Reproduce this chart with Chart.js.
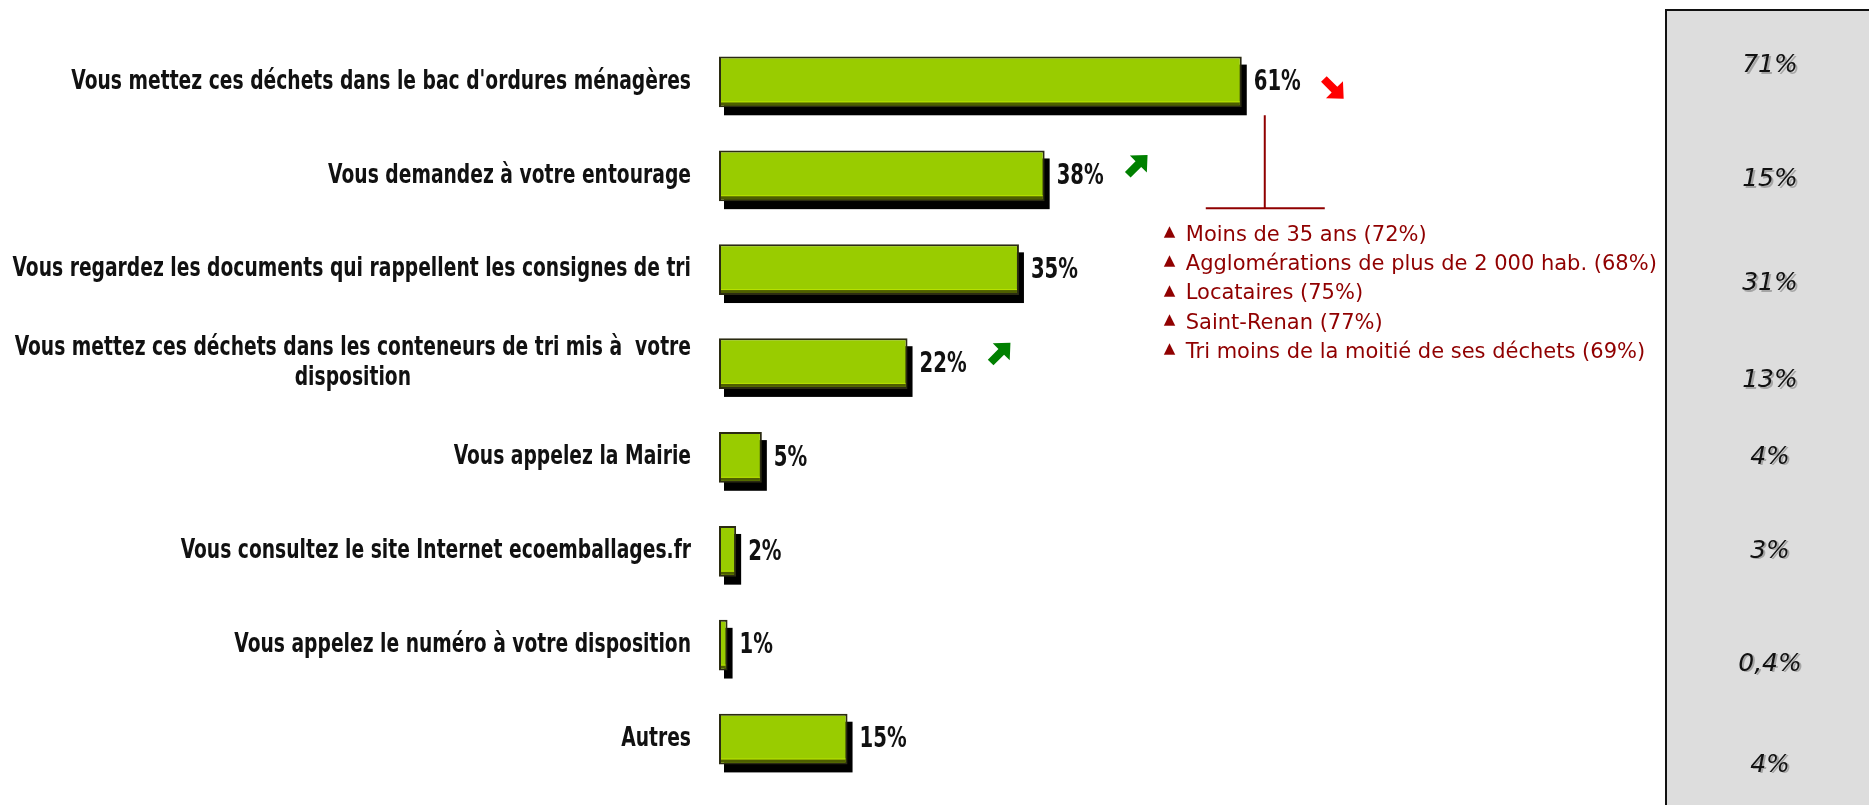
<!DOCTYPE html>
<html lang="fr">
<head>
<meta charset="utf-8">
<script src="https://cdn.jsdelivr.net/npm/chart.js@4"></script>
<style>
  body { margin: 0; background: #ffffff; }
  #graphique { display: block; }
</style>
</head>
<body>
<canvas id="graphique" width="1869" height="805"></canvas>
<script>
// Données
const categories = [
  "Vous mettez ces déchets dans le bac d'ordures ménagères",
  "Vous demandez à votre entourage",
  "Vous regardez les documents qui rappellent les consignes de tri",
  ["Vous mettez ces déchets dans les conteneurs de tri mis à  votre", "disposition"],
  "Vous appelez la Mairie",
  "Vous consultez le site Internet ecoemballages.fr",
  "Vous appelez le numéro à votre disposition",
  "Autres"
];
const valeurs = [61, 38, 35, 22, 5, 2, 1, 15];
const valeursPrecedentes = [71, 15, 31, 13, 4, 3, 0.4, 4];
const tendances = ["baisse", "hausse", null, "hausse", null, null, null, null];
const surRepresentes = [
  "Moins de 35 ans (72%)",
  "Agglomérations de plus de 2 000 hab. (68%)",
  "Locataires (75%)",
  "Saint-Renan (77%)",
  "Tri moins de la moitié de ses déchets (69%)"
];

// mise en page
const POLICE_LIB = '"DejaVu Sans Condensed", "Liberation Sans Narrow", sans-serif';
const decalagePanneau = [-16, 4, 14, 17, 0, 0, 19, 26];
const rouge = "#900000";

const fmt = v => String(v).replace(".", ",") + "%";

// texte compressé horizontalement (police étroite)
function texteEtroit(ctx, t, x, y, align, sx) {
  ctx.save();
  ctx.translate(x, y);
  ctx.scale(sx, 1);
  ctx.textAlign = align;
  ctx.fillText(t, 0, 0);
  ctx.restore();
}

// fond gris à droite
const panneau = {
  id: "panneau",
  beforeDraw(chart) {
    const ctx = chart.ctx;
    ctx.save();
    ctx.fillStyle = "#dddddd";
    ctx.fillRect(1666, 10, 210, 800);
    ctx.strokeStyle = "#111";
    ctx.lineWidth = 2;
    ctx.beginPath();
    ctx.moveTo(1666, 820);
    ctx.lineTo(1666, 10);
    ctx.lineTo(1875, 10);
    ctx.stroke();
    ctx.restore();
  },
  afterDraw(chart) {
    const ctx = chart.ctx;
    const y = chart.scales.y;
    ctx.save();
    ctx.font = 'italic 25px "DejaVu Sans", sans-serif';
    ctx.textAlign = "center";
    ctx.textBaseline = "middle";
    valeursPrecedentes.forEach((v, i) => {
      const py = y.getPixelForValue(i) + decalagePanneau[i];
      ctx.fillStyle = "rgba(0,0,0,0.25)";
      ctx.fillText(fmt(v), 1772, py + 1.5);
      ctx.fillStyle = "#111";
      ctx.fillText(fmt(v), 1770, py);
    });
    ctx.restore();
  }
};

// ombres des barres
const ombres = {
  id: "ombres",
  beforeDatasetsDraw(chart) {
    const ctx = chart.ctx;
    ctx.save();
    ctx.fillStyle = "#000";
    chart.getDatasetMeta(0).data.forEach(b => {
      ctx.fillRect(b.base + 5, b.y - b.height / 2 + 8, b.x - b.base, b.height);
    });
    ctx.restore();
  },
  afterDatasetsDraw(chart) {
    const ctx = chart.ctx;
    ctx.save();
    chart.getDatasetMeta(0).data.forEach(b => {
      const bas = b.y + b.height / 2;
      ctx.fillStyle = "#4d5e00";
      ctx.fillRect(b.base + 2, bas - 5, b.x - b.base - 4, 3);
      ctx.fillStyle = "#b8e000";
      ctx.fillRect(b.base + 2, bas - 6, b.x - b.base - 4, 1);
    });
    ctx.restore();
  }
};

function fleche(ctx, cx, cy, angle, couleur) {
  ctx.save();
  ctx.translate(cx, cy);
  ctx.rotate(angle);
  ctx.fillStyle = couleur;
  ctx.beginPath();
  ctx.moveTo(-14, -4);
  ctx.lineTo(1, -4);
  ctx.lineTo(1, -12);
  ctx.lineTo(14, 0);
  ctx.lineTo(1, 12);
  ctx.lineTo(1, 4);
  ctx.lineTo(-14, 4);
  ctx.closePath();
  ctx.fill();
  ctx.restore();
}

// étiquettes, flèches et encadré
const textes = {
  id: "textes",
  afterDraw(chart) {
    const ctx = chart.ctx;
    const y = chart.scales.y;
    const barres = chart.getDatasetMeta(0).data;
    ctx.save();

    // libellés des catégories
    const sx = 0.8;
    ctx.font = "bold 26px " + POLICE_LIB;
    ctx.fillStyle = "#111";
    ctx.textBaseline = "middle";
    const droite = chart.chartArea.left - 28;
    categories.forEach((lab, i) => {
      const lignes = Array.isArray(lab) ? lab : [lab];
      const larg = Math.max(...lignes.map(l => ctx.measureText(l).width)) * sx;
      const cy = y.getPixelForValue(i);
      const h = 30;
      lignes.forEach((l, k) => {
        const ly = cy + (k - (lignes.length - 1) / 2) * h;
        if (lignes.length > 1) texteEtroit(ctx, l, droite - larg / 2, ly, "center", sx);
        else texteEtroit(ctx, l, droite, ly, "right", sx);
      });
    });

    // valeurs
    ctx.font = "bold 28px " + POLICE_LIB;
    barres.forEach((b, i) => {
      texteEtroit(ctx, valeurs[i] + "%", b.x + 12, b.y + 1, "left", 0.78);
    });

    // flèches d'évolution
    barres.forEach((b, i) => {
      if (tendances[i] === "baisse") fleche(ctx, b.x + 92, b.y + 7, Math.PI / 4, "#ff0000");
      if (tendances[i] === "hausse") fleche(ctx, b.x + 93, b.y - 11, -Math.PI / 4, "#008000");
    });

    // encadré du premier item
    const b0 = barres[0];
    const lx = b0.x + 23;
    const haut = b0.y + b0.height / 2 + 8;
    const bas = haut + 93;
    ctx.strokeStyle = rouge;
    ctx.lineWidth = 2;
    ctx.beginPath();
    ctx.moveTo(lx, haut);
    ctx.lineTo(lx, bas);
    ctx.moveTo(lx - 59, bas);
    ctx.lineTo(lx + 60, bas);
    ctx.stroke();

    ctx.fillStyle = rouge;
    ctx.textAlign = "left";
    surRepresentes.forEach((t, k) => {
      const ty = bas + 27 + k * 29.3;
      ctx.font = '15px "DejaVu Sans", sans-serif';
      ctx.fillText("▲", lx - 101, ty - 3);
      ctx.font = '21px "DejaVu Sans", sans-serif';
      ctx.fillText(t, lx - 79, ty);
    });
    ctx.restore();
  }
};

new Chart(document.getElementById("graphique"), {
  type: "bar",
  data: {
    labels: categories,
    datasets: [{
      data: valeurs,
      backgroundColor: "#99cc00",
      borderColor: "#2b2b12",
      borderWidth: 2,
      borderSkipped: false,
      barPercentage: 0.54,
      categoryPercentage: 1
    }]
  },
  options: {
    indexAxis: "y",
    responsive: false,
    animation: false,
    layout: { padding: { left: 0, right: 293, top: 35, bottom: 19 } },
    scales: {
      x: { min: 0, max: 100, display: false },
      y: {
        grid: { display: false },
        border: { display: false },
        ticks: { display: false },
        afterFit(scale) { scale.width = 719; }
      }
    },
    plugins: {
      legend: { display: false },
      tooltip: { enabled: false }
    }
  },
  plugins: [panneau, ombres, textes]
});
</script>
</body>
</html>
